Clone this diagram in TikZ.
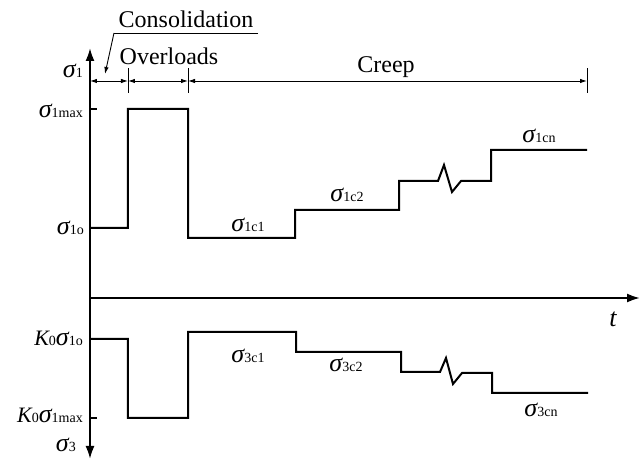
\documentclass[tikz,border=0pt]{standalone}
\usepackage{fontspec}
\setmainfont{Liberation Serif}
\usetikzlibrary{arrows.meta,positioning,calc}

\newcommand{\sg}[1]{{\fontsize{26}{26}\selectfont\itshape σ}{\fontsize{14}{14}\selectfont #1}}
\newcommand{\kz}{{\fontsize{22}{22}\selectfont\itshape K}{\fontsize{14}{14}\selectfont 0}}
\newcommand{\txt}{\fontsize{24}{26}\selectfont}

\begin{document}
\begin{tikzpicture}[x=1pt, y=1pt,
    axis/.style={line width=2pt},
    signal/.style={line width=2pt, line join=miter},
    dim/.style={line width=0.9pt, {Latex[length=7pt,width=4.5pt]}-{Latex[length=7pt,width=4.5pt]}},
    lbl/.style={inner sep=0pt}]
    \useasboundingbox (-90,-162) rectangle (551,298);
    % axes
    \coordinate (O) at (0,0);
    \coordinate (top) at (0,250);
    \coordinate (bot) at (0,-161);
    \coordinate (tend) at (550,0);
    \draw[axis, {Latex[length=13pt,width=9pt]}-{Latex[length=13pt,width=9pt]}] (bot) -- (top);
    \draw[axis, -{Latex[length=13pt,width=9pt]}] (O) -- (tend);
    \draw[axis] (0,189) -- (7,189);
    \draw[axis] (0,-120) -- (7,-120);
    % stage bar
    \coordinate (d0) at (0,217);
    \coordinate (d1) at (38,217);
    \coordinate (d2) at (98,217);
    \coordinate (d3) at (497,217);
    \foreach \x in {38,98,497} \draw[line width=0.9pt] (\x,205) -- (\x,230);
    \draw[dim] (d0) -- (d1);
    \draw[dim] (d1) -- (d2);
    \draw[dim] (d2) -- (d3);
    \node[lbl, anchor=base] (cons) at (96,270) {\txt Consolidation};
    \node[lbl, anchor=base] (over) at (79,233) {\txt Overloads};
    \node[lbl, anchor=base] (creep) at (296,225) {\txt Creep};
    \coordinate (ul) at (24,265);
    \coordinate (ur) at (168,265);
    \coordinate (tip) at (15,224);
    \draw[line width=0.9pt] (ur) -- (ul);
    \draw[line width=0.9pt, -{Latex[length=7pt,width=4.5pt]}] (ul) -- (tip);
    % sigma 1
    \draw[signal] (0,70) -- (38,70) -- (38,189) -- (98,189) -- (98,60) -- (205,60) -- (205,88)
        -- (309,88) -- (309,117) -- (348,117) -- (354,133) -- (362,106) -- (371,117)
        -- (401,117) -- (401,148) -- (497,148);
    % sigma 3
    \draw[signal] (0,-41) -- (38,-41) -- (38,-120) -- (98,-120) -- (98,-34) -- (206,-34) -- (206,-54)
        -- (311,-54) -- (311,-74) -- (350,-74) -- (356,-60) -- (363,-86) -- (372,-75)
        -- (402,-75) -- (402,-95) -- (498,-95);
    % labels
    \node[lbl, anchor=base east] (s1) at (-7,220) {\sg{1}};
    \node[lbl, anchor=base east] (s1max) at (-7,180) {\sg{1max}};
    \node[lbl, anchor=base east] (s1o) at (-6,63) {\sg{1o}};
    \node[lbl, anchor=base east] (ks1o) at (-7,-48) {\kz\sg{1o}};
    \node[lbl, anchor=base east] (ks1max) at (-7,-125) {\kz\sg{1max}};
    \node[lbl, anchor=base east] (s3) at (-14,-154) {\sg{3}};
    \node[lbl, anchor=base] (s1c1) at (158,66) {\sg{1c1}};
    \node[lbl, anchor=base] (s1c2) at (257,96) {\sg{1c2}};
    \node[lbl, anchor=base] (s1cn) at (449,155) {\sg{1cn}};
    \node[lbl, anchor=base] (s3c1) at (158,-65) {\sg{3c1}};
    \node[lbl, anchor=base] (s3c2) at (256,-74) {\sg{3c2}};
    \node[lbl, anchor=base] (s3cn) at (451,-119) {\sg{3cn}};
    \node[lbl, anchor=base] (t) at (523,-29) {\fontsize{26}{26}\selectfont\itshape t};
\end{tikzpicture}
\end{document}
